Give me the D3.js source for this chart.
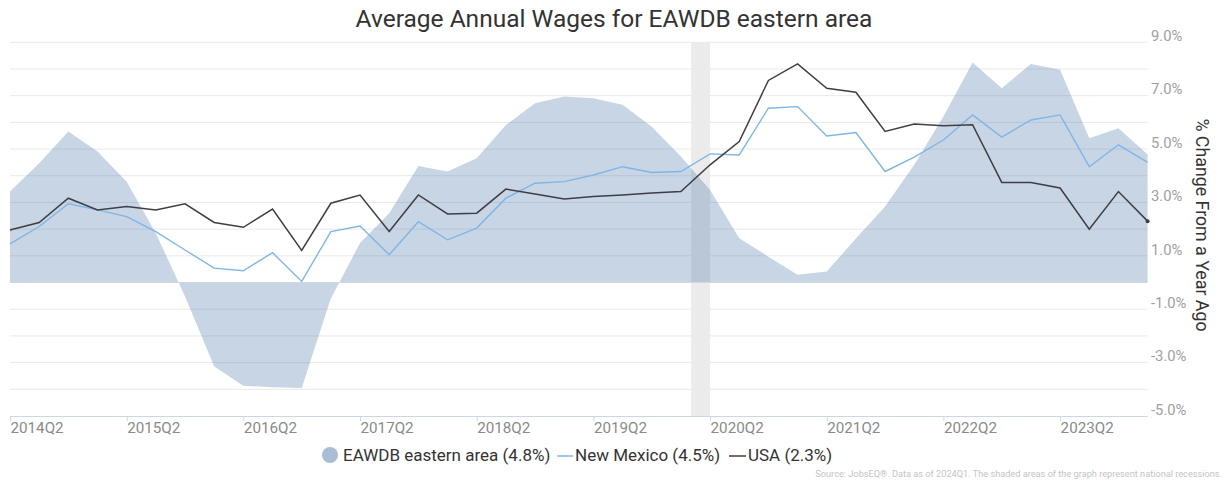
<!DOCTYPE html>
<html>
<head>
<meta charset="utf-8">
<script src="https://cdn.jsdelivr.net/npm/d3@7"></script>
<style>
  html, body { margin: 0; padding: 0; background: #fff; }
  svg { display: block; font-family: Roboto, "Noto Sans", sans-serif; }
</style>
</head>
<body>
<svg id="chart" width="1225" height="487"></svg>
<script>
// Quarterly observations, 2014Q2 through 2024Q1
const quarters = [
  "2014Q2","2014Q3","2014Q4","2015Q1","2015Q2","2015Q3","2015Q4","2016Q1",
  "2016Q2","2016Q3","2016Q4","2017Q1","2017Q2","2017Q3","2017Q4","2018Q1",
  "2018Q2","2018Q3","2018Q4","2019Q1","2019Q2","2019Q3","2019Q4","2020Q1",
  "2020Q2","2020Q3","2020Q4","2021Q1","2021Q2","2021Q3","2021Q4","2022Q1",
  "2022Q2","2022Q3","2022Q4","2023Q1","2023Q2","2023Q3","2023Q4","2024Q1"
];

// Year-over-year % change in average annual wages
const eawdb = [
  3.41, 4.47, 5.66, 4.91, 3.78, 1.85, -0.52, -3.15,
  -3.87, -3.92, -3.95, -0.6, 1.48, 2.6, 4.37, 4.16,
  4.66, 5.9, 6.72, 6.97, 6.9, 6.66, 5.84, 4.72,
  3.47, 1.66, 0.97, 0.29, 0.41, 1.65, 2.85, 4.41,
  6.22, 8.24, 7.28, 8.19, 7.97, 5.41, 5.78, 4.8
];
const newMexico = [
  1.45, 2.1, 2.95, 2.72, 2.47, 1.91, 1.22, 0.54,
  0.44, 1.12, 0.04, 1.91, 2.12, 1.04, 2.28, 1.6,
  2.04, 3.16, 3.72, 3.78, 4.03, 4.34, 4.12, 4.16,
  4.82, 4.78, 6.53, 6.59, 5.49, 5.62, 4.16, 4.7,
  5.34, 6.28, 5.45, 6.09, 6.28, 4.34, 5.16, 4.5
];
const usa = [
  1.97, 2.25, 3.16, 2.72, 2.85, 2.72, 2.95, 2.25,
  2.07, 2.75, 1.2, 2.97, 3.28, 1.91, 3.28, 2.57,
  2.6, 3.5, 3.32, 3.13, 3.22, 3.28, 3.35, 3.41,
  4.41, 5.28, 7.57, 8.19, 7.28, 7.13, 5.66, 5.94,
  5.87, 5.91, 3.75, 3.75, 3.54, 2.0, 3.41, 2.3
];

const xTickLabels = ["2014Q2","2015Q2","2016Q2","2017Q2","2018Q2","2019Q2","2020Q2","2021Q2","2022Q2","2023Q2"];
const yGridValues = [-4,-3,-2,-1,0,1,2,3,4,5,6,7,8,9];
const yTickLabels = [-5,-3,-1,1,3,5,7,9];
// National recession (2020 Feb–Apr) as [quarter, fraction] pairs
const recessionStart = ["2020Q1", 0.35];
const recessionEnd = ["2020Q2", 0];

const seriesNames = ["EAWDB eastern area", "New Mexico", "USA"];
const latest = ["4.8%", "4.5%", "2.3%"];

const svg = d3.select("#chart");
const plotLeft = 10, plotRight = 1147.6, plotTop = 42.3, plotBottom = 416;

const x = d3.scaleLinear().domain([0, quarters.length - 1]).range([plotLeft, plotRight]);
const y = d3.scaleLinear().domain([-5, 9]).range([plotBottom, plotTop]);

// Horizontal gridlines
svg.append("g").selectAll("line")
  .data(yGridValues)
  .join("line")
  .attr("x1", plotLeft).attr("x2", plotRight)
  .attr("y1", d => y(d)).attr("y2", d => y(d))
  .attr("stroke", "#e9e9e9").attr("stroke-width", 1);

// Recession band
const r0 = x(quarters.indexOf(recessionStart[0]) + recessionStart[1]);
const r1 = x(quarters.indexOf(recessionEnd[0]) + recessionEnd[1]);
svg.append("rect")
  .attr("x", r0).attr("y", plotTop).attr("width", r1 - r0).attr("height", plotBottom - plotTop)
  .attr("fill", "#ebebeb");

// Area series
const area = d3.area().x((d, i) => x(i)).y0(y(0)).y1(d => y(d));
svg.append("path").datum(eawdb)
  .attr("d", area)
  .attr("fill", "#4a74a8").attr("fill-opacity", 0.3);

// Line series
const line = d3.line().x((d, i) => x(i)).y(d => y(d));
svg.append("path").datum(newMexico)
  .attr("d", line).attr("fill", "none")
  .attr("stroke", "#7fb6e6").attr("stroke-width", 1.4);
svg.append("path").datum(usa)
  .attr("d", line).attr("fill", "none")
  .attr("stroke", "#3e3e44").attr("stroke-width", 1.5);
svg.append("circle")
  .attr("cx", x(usa.length - 1)).attr("cy", y(usa[usa.length - 1]))
  .attr("r", 2).attr("fill", "#3e3e44");

// X axis
const xAxis = d3.axisBottom(x)
  .tickValues(xTickLabels.map(q => quarters.indexOf(q)))
  .tickFormat(i => quarters[i])
  .tickSize(5).tickSizeOuter(0);
const gx = svg.append("g").attr("transform", `translate(0,${plotBottom})`).call(xAxis);
gx.select(".domain").attr("stroke", "#ccd6e6").attr("d", `M${plotLeft},0.5H${plotRight}`);
gx.selectAll(".tick line").attr("stroke", "#ccd6e6");
gx.selectAll(".tick text")
  .attr("text-anchor", "start").attr("x", 0).attr("dy", "0.95em").attr("y", 3)
  .attr("fill", "#8a8a8a").attr("font-size", 15.2).attr("font-family", "Roboto");

// Y axis (right side, labels only)
const yAxis = d3.axisRight(y)
  .tickValues(yTickLabels)
  .tickFormat(d => d.toFixed(1) + "%")
  .tickSize(0);
const gy = svg.append("g").attr("transform", "translate(1151,0)").call(yAxis);
gy.select(".domain").remove();
gy.selectAll(".tick text")
  .attr("x", 0).attr("dy", "-0.12em")
  .attr("fill", "#a0a0a0").attr("font-size", 14.8).attr("font-family", "Roboto");

// Axis title
svg.append("text")
  .attr("transform", "translate(1196,225) rotate(90)")
  .attr("text-anchor", "middle")
  .attr("font-size", 17.8).attr("fill", "#333")
  .text("% Change From a Year Ago");

// Title
svg.append("text")
  .attr("x", 614).attr("y", 27)
  .attr("text-anchor", "middle")
  .attr("font-size", 24.5).attr("fill", "#333")
  .text("Average Annual Wages for EAWDB eastern area");

// Legend
const lg = svg.append("g").attr("font-size", 17).attr("fill", "#333");
lg.append("circle").attr("cx", 330).attr("cy", 455).attr("r", 8).attr("fill", "#a9bdd7");
lg.append("text").attr("x", 343).attr("y", 461).text(`${seriesNames[0]} (${latest[0]})`);
lg.append("line").attr("x1", 557).attr("x2", 573).attr("y1", 456).attr("y2", 456)
  .attr("stroke", "#7fb6e6").attr("stroke-width", 1.5);
lg.append("text").attr("x", 575).attr("y", 461).text(`${seriesNames[1]} (${latest[1]})`);
lg.append("line").attr("x1", 729).attr("x2", 746).attr("y1", 456).attr("y2", 456)
  .attr("stroke", "#3e3e44").attr("stroke-width", 1.5);
lg.append("text").attr("x", 748).attr("y", 461).text(`${seriesNames[2]} (${latest[2]})`);

// Source note
svg.append("text")
  .attr("x", 1222).attr("y", 477)
  .attr("text-anchor", "end")
  .attr("font-size", 9.2).attr("fill", "#c4c4c4")
  .text("Source: JobsEQ®. Data as of 2024Q1. The shaded areas of the graph represent national recessions.");
</script>
</body>
</html>
